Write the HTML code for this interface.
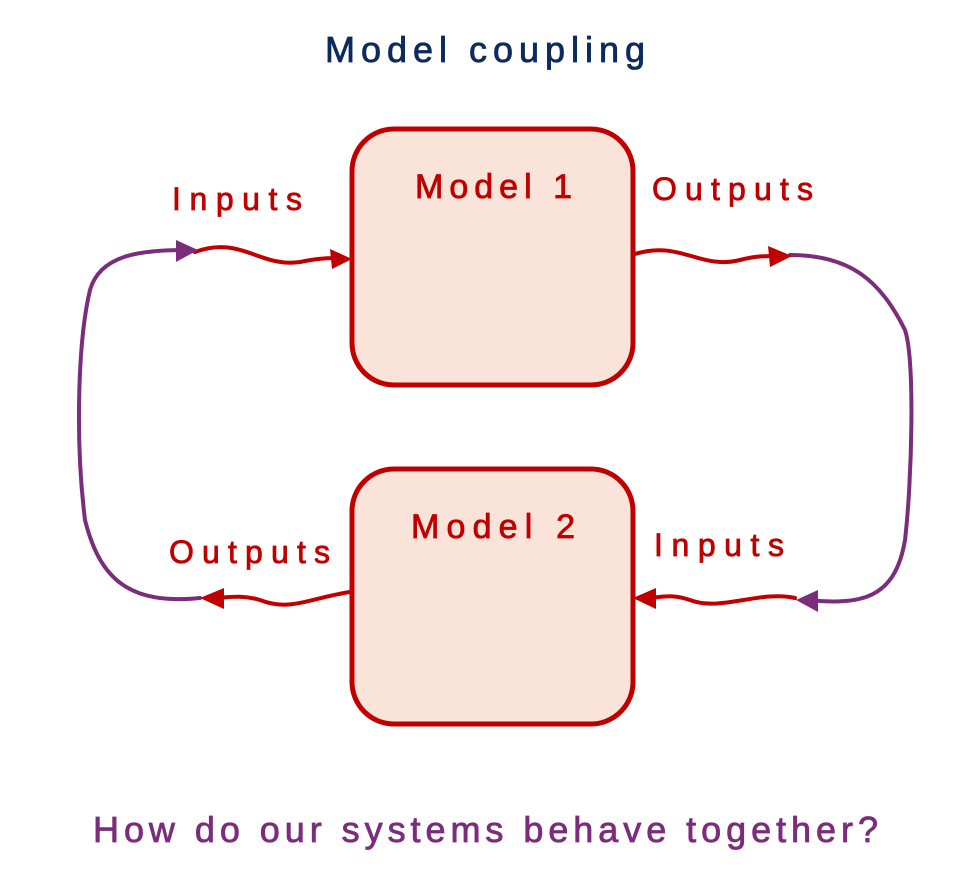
<!DOCTYPE html>
<html><head><meta charset="utf-8"><style>
html,body{margin:0;padding:0;background:#fff;}
svg{display:block}
text{font-family:"Liberation Sans","DejaVu Sans",sans-serif;}
</style></head><body>
<svg width="971" height="893" viewBox="0 0 971 893" xmlns="http://www.w3.org/2000/svg">
<text x="325" y="62" font-size="36" fill="#0d2a5e" stroke="#0d2a5e" stroke-width="0.8" textLength="320" lengthAdjust="spacing">Model coupling</text>

<rect x="352" y="129" width="281" height="256" rx="42" fill="#fae3d9" stroke="#c00000" stroke-width="5"/>
<rect x="352" y="469" width="281" height="255" rx="42" fill="#fae3d9" stroke="#c00000" stroke-width="5"/>
<g fill="#c00000" stroke="#c00000" stroke-width="0.8" font-size="34">
<text x="415" y="198" textLength="157" lengthAdjust="spacing">Model 1</text>
<text x="411" y="538" textLength="164" lengthAdjust="spacing">Model 2</text>
<text x="172" y="210" font-size="32" textLength="130" lengthAdjust="spacing">Inputs</text>
<text x="652" y="200" font-size="32" textLength="161" lengthAdjust="spacing">Outputs</text>
<text x="169" y="563" font-size="32" textLength="161" lengthAdjust="spacing">Outputs</text>
<text x="654" y="556" font-size="32" textLength="130" lengthAdjust="spacing">Inputs</text>
</g>

<g fill="none" stroke-width="4" stroke-linecap="round">
<path d="M195 252 C240 235,260 268,300 262 C320 258,330 258,340 258" stroke="#c00000"/>
<path d="M635 254 C680 240,700 270,740 260 C755 256,765 256,778 256" stroke="#c00000"/>
<path d="M795 598 C760 590,720 612,690 600 C670 593,660 598,645 598" stroke="#c00000"/>
<path d="M350 592 C310 598,290 612,260 600 C240 594,225 598,215 598" stroke="#c00000"/>
<path d="M790 255 C850 255,880 280,905 330 C915 360,912 480,905 540 C895 600,860 605,808 600" stroke="#7b2d7b"/>
<path d="M200 598 C130 605,100 580,85 520 C75 440,78 340,90 290 C100 255,140 250,185 250" stroke="#7b2d7b"/>
</g>
<polygon points="352,259 330,249 332,269" fill="#c00000"/>
<polygon points="792,256 768,246 770,267" fill="#c00000"/>
<polygon points="633,598 656,588 656,609" fill="#c00000"/>
<polygon points="200,598 224,588 224,609" fill="#c00000"/>
<polygon points="198,250 176,240 176,262" fill="#7b2d7b"/>
<polygon points="796,600 818,590 818,612" fill="#7b2d7b"/>

<text x="93" y="842" font-size="36" fill="#7b2d7b" stroke="#7b2d7b" stroke-width="0.8" textLength="785" lengthAdjust="spacing">How do our systems behave together?</text>
</svg>
</body></html>
